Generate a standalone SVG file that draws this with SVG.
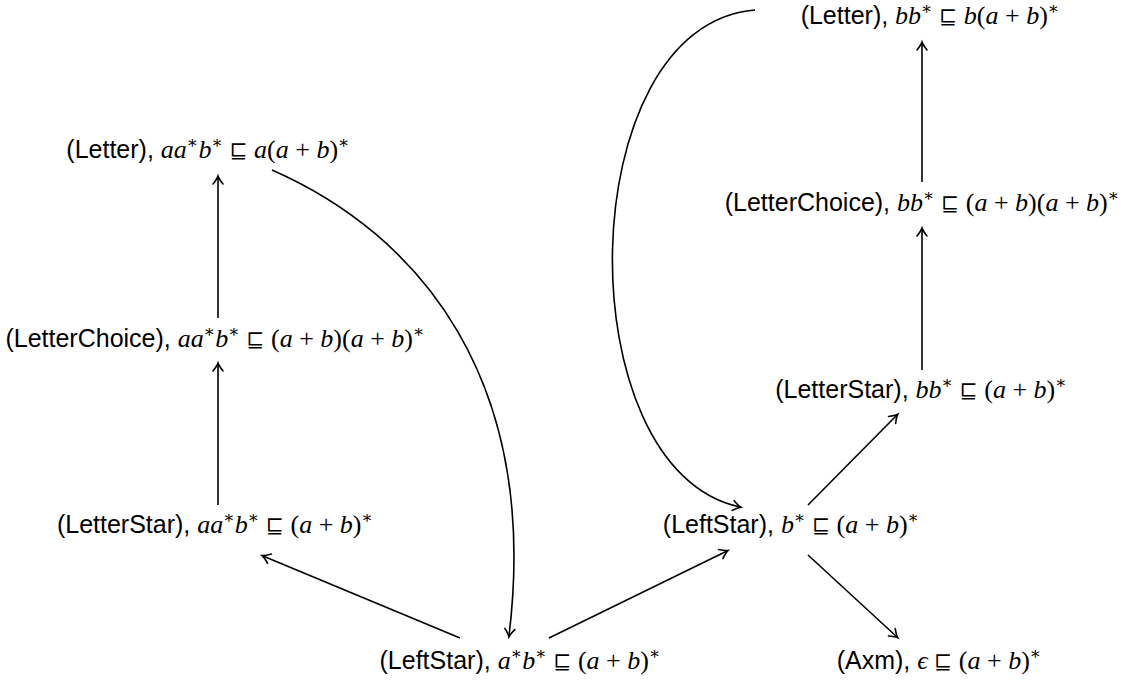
<svg xmlns="http://www.w3.org/2000/svg" width="1126" height="681" viewBox="0 0 1126 681">
<style>
text{font-size:26px;fill:#000;text-anchor:middle}
.s{font-family:"Liberation Sans",Arial,sans-serif;font-size:25px}
.m{font-family:"Liberation Serif","DejaVu Serif",serif;font-style:italic}
.r{font-family:"Liberation Serif","DejaVu Serif",serif}
.q{font-family:"DejaVu Serif","Liberation Serif",serif;font-size:21px}
.p{font-family:"Liberation Serif","DejaVu Serif",serif;font-size:17px}
.e{fill:none;stroke:#000;stroke-width:1.6}
</style>
<defs>
<marker id="ah" markerUnits="userSpaceOnUse" markerWidth="20" markerHeight="20" refX="0" refY="0" viewBox="-10 -10 20 20" orient="auto">
<path d="M-7,-5 Q-2,-1 1,0 Q-2,1 -7,5" fill="none" stroke="#000" stroke-width="1.6" stroke-linecap="round"/>
</marker>
</defs>
<g id="connectors">
<line class="e" x1="218" y1="505" x2="218" y2="364" marker-end="url(#ah)"/>
<line class="e" x1="218" y1="318" x2="218" y2="177" marker-end="url(#ah)"/>
<line class="e" x1="460" y1="638" x2="263" y2="556" marker-end="url(#ah)"/>
<line class="e" x1="549" y1="638" x2="727" y2="551" marker-end="url(#ah)"/>
<line class="e" x1="808" y1="505" x2="897" y2="415" marker-end="url(#ah)"/>
<line class="e" x1="808" y1="555" x2="897" y2="637" marker-end="url(#ah)"/>
<line class="e" x1="922" y1="370" x2="922" y2="229" marker-end="url(#ah)"/>
<line class="e" x1="922" y1="182" x2="922" y2="43" marker-end="url(#ah)"/>
<path class="e" d="M272,170 C420,235 540,380 509,636" marker-end="url(#ah)"/>
<path class="e" d="M755,10 C570,25 565,470 740,507" marker-end="url(#ah)"/>
</g>
<g id="n1"><text x="208" y="158"><tspan class="s">(Letter), </tspan><tspan class="m">aa</tspan><tspan class="p" dy="-10">∗</tspan><tspan class="m" dy="10">b</tspan><tspan class="p" dy="-10">∗</tspan><tspan class="q" dy="10"> ⊑ </tspan><tspan class="m">a</tspan><tspan class="r">(</tspan><tspan class="m">a</tspan><tspan class="r"> + </tspan><tspan class="m">b</tspan><tspan class="r">)</tspan><tspan class="p" dy="-10">∗</tspan></text></g>
<g id="n2"><text x="215" y="347"><tspan class="s">(LetterChoice), </tspan><tspan class="m">aa</tspan><tspan class="p" dy="-10">∗</tspan><tspan class="m" dy="10">b</tspan><tspan class="p" dy="-10">∗</tspan><tspan class="q" dy="10"> ⊑ </tspan><tspan class="r">(</tspan><tspan class="m">a</tspan><tspan class="r"> + </tspan><tspan class="m">b</tspan><tspan class="r">)(</tspan><tspan class="m">a</tspan><tspan class="r"> + </tspan><tspan class="m">b</tspan><tspan class="r">)</tspan><tspan class="p" dy="-10">∗</tspan></text></g>
<g id="n3"><text x="215" y="533"><tspan class="s">(LetterStar), </tspan><tspan class="m">aa</tspan><tspan class="p" dy="-10">∗</tspan><tspan class="m" dy="10">b</tspan><tspan class="p" dy="-10">∗</tspan><tspan class="q" dy="10"> ⊑ </tspan><tspan class="r">(</tspan><tspan class="m">a</tspan><tspan class="r"> + </tspan><tspan class="m">b</tspan><tspan class="r">)</tspan><tspan class="p" dy="-10">∗</tspan></text></g>
<g id="n4"><text x="520" y="669"><tspan class="s">(LeftStar), </tspan><tspan class="m">a</tspan><tspan class="p" dy="-10">∗</tspan><tspan class="m" dy="10">b</tspan><tspan class="p" dy="-10">∗</tspan><tspan class="q" dy="10"> ⊑ </tspan><tspan class="r">(</tspan><tspan class="m">a</tspan><tspan class="r"> + </tspan><tspan class="m">b</tspan><tspan class="r">)</tspan><tspan class="p" dy="-10">∗</tspan></text></g>
<g id="n5"><text x="791" y="533"><tspan class="s">(LeftStar), </tspan><tspan class="m">b</tspan><tspan class="p" dy="-10">∗</tspan><tspan class="q" dy="10"> ⊑ </tspan><tspan class="r">(</tspan><tspan class="m">a</tspan><tspan class="r"> + </tspan><tspan class="m">b</tspan><tspan class="r">)</tspan><tspan class="p" dy="-10">∗</tspan></text></g>
<g id="n6"><text x="939" y="669"><tspan class="s">(Axm), </tspan><tspan class="m">ϵ</tspan><tspan class="q"> ⊑ </tspan><tspan class="r">(</tspan><tspan class="m">a</tspan><tspan class="r"> + </tspan><tspan class="m">b</tspan><tspan class="r">)</tspan><tspan class="p" dy="-10">∗</tspan></text></g>
<g id="n7"><text x="921" y="398"><tspan class="s">(LetterStar), </tspan><tspan class="m">bb</tspan><tspan class="p" dy="-10">∗</tspan><tspan class="q" dy="10"> ⊑ </tspan><tspan class="r">(</tspan><tspan class="m">a</tspan><tspan class="r"> + </tspan><tspan class="m">b</tspan><tspan class="r">)</tspan><tspan class="p" dy="-10">∗</tspan></text></g>
<g id="n8"><text x="922" y="211"><tspan class="s">(LetterChoice), </tspan><tspan class="m">bb</tspan><tspan class="p" dy="-10">∗</tspan><tspan class="q" dy="10"> ⊑ </tspan><tspan class="r">(</tspan><tspan class="m">a</tspan><tspan class="r"> + </tspan><tspan class="m">b</tspan><tspan class="r">)(</tspan><tspan class="m">a</tspan><tspan class="r"> + </tspan><tspan class="m">b</tspan><tspan class="r">)</tspan><tspan class="p" dy="-10">∗</tspan></text></g>
<g id="n9"><text x="930" y="24"><tspan class="s">(Letter), </tspan><tspan class="m">bb</tspan><tspan class="p" dy="-10">∗</tspan><tspan class="q" dy="10"> ⊑ </tspan><tspan class="m">b</tspan><tspan class="r">(</tspan><tspan class="m">a</tspan><tspan class="r"> + </tspan><tspan class="m">b</tspan><tspan class="r">)</tspan><tspan class="p" dy="-10">∗</tspan></text></g>
</svg>
